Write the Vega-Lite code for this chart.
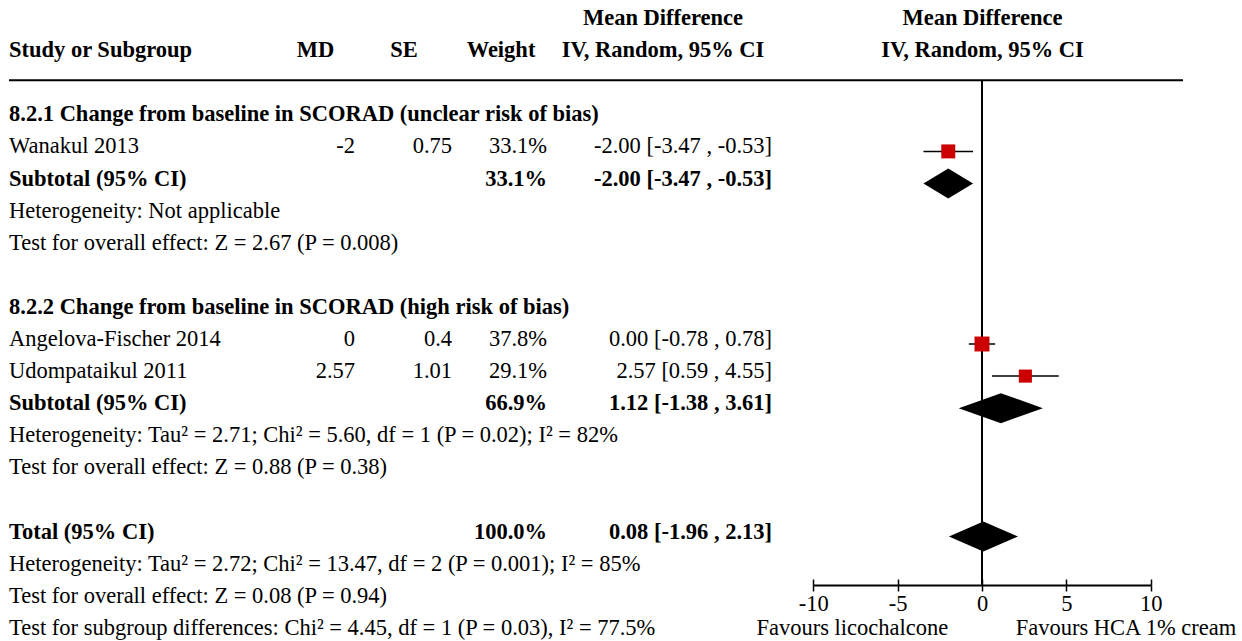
{
  "$schema": "https://vega.github.io/schema/vega-lite/v6.json",
  "width": 1242,
  "height": 641,
  "autosize": {"type": "fit", "contains": "padding"},
  "padding": 0,
  "background": "white",
  "config": {
    "view": {"stroke": null},
    "font": "Liberation Serif",
    "text": {"font": "Liberation Serif", "fontSize": 22.5, "color": "#000000", "baseline": "middle", "dy": -5},
    "axis": {"labelFont": "Liberation Serif", "titleFont": "Liberation Serif"}
  },
  "datasets": {
    "studies": [
      {"row": 4, "study": "Wanakul 2013", "md": "-2", "se": "0.75", "weight": 33.1, "wlabel": "33.1%", "est": -2.0, "lo": -3.47, "hi": -0.53, "ci": "-2.00 [-3.47 , -0.53]"},
      {"row": 10, "study": "Angelova-Fischer 2014", "md": "0", "se": "0.4", "weight": 37.8, "wlabel": "37.8%", "est": 0.0, "lo": -0.78, "hi": 0.78, "ci": "0.00 [-0.78 , 0.78]"},
      {"row": 11, "study": "Udompataikul 2011", "md": "2.57", "se": "1.01", "weight": 29.1, "wlabel": "29.1%", "est": 2.57, "lo": 0.59, "hi": 4.55, "ci": "2.57 [0.59 , 4.55]"}
    ],
    "subtotals": [
      {"row": 5, "group": "8.2.1", "label": "Subtotal (95% CI)", "wlabel": "33.1%", "est": -2.0, "lo": -3.47, "hi": -0.53, "ci": "-2.00 [-3.47 , -0.53]"},
      {"row": 12, "group": "8.2.2", "label": "Subtotal (95% CI)", "wlabel": "66.9%", "est": 1.12, "lo": -1.38, "hi": 3.61, "ci": "1.12 [-1.38 , 3.61]"},
      {"row": 16, "group": "Total", "label": "Total (95% CI)", "wlabel": "100.0%", "est": 0.08, "lo": -1.96, "hi": 2.13, "ci": "0.08 [-1.96 , 2.13]"}
    ],
    "headings": [
      {"row": 1, "label": "Study or Subgroup"},
      {"row": 3, "label": "8.2.1 Change from baseline in SCORAD (unclear risk of bias)"},
      {"row": 9, "label": "8.2.2 Change from baseline in SCORAD (high risk of bias)"}
    ],
    "notes": [
      {"row": 6, "label": "Heterogeneity: Not applicable"},
      {"row": 7, "label": "Test for overall effect: Z = 2.67 (P = 0.008)"},
      {"row": 13, "label": "Heterogeneity: Tau² = 2.71; Chi² = 5.60, df = 1 (P = 0.02); I² = 82%"},
      {"row": 14, "label": "Test for overall effect: Z = 0.88 (P = 0.38)"},
      {"row": 17, "label": "Heterogeneity: Tau² = 2.72; Chi² = 13.47, df = 2 (P = 0.001); I² = 85%"},
      {"row": 18, "label": "Test for overall effect: Z = 0.08 (P = 0.94)"},
      {"row": 19, "label": "Test for subgroup differences: Chi² = 4.45, df = 1 (P = 0.03), I² = 77.5%"}
    ],
    "headers": [
      {"row": 1, "col": 0, "label": "MD"},
      {"row": 1, "col": 1, "label": "SE"},
      {"row": 1, "col": 2, "label": "Weight"},
      {"row": 0, "col": 3, "label": "Mean Difference"},
      {"row": 1, "col": 3, "label": "IV, Random, 95% CI"},
      {"row": 0, "col": 4, "label": "Mean Difference"},
      {"row": 1, "col": 4, "label": "IV, Random, 95% CI"}
    ]
  },
  "layer": [
    {
      "layer": [
        {
          "data": {"name": "studies"},
          "mark": {"type": "text", "align": "left"},
          "encoding": {
            "x": {"datum": 0, "type": "quantitative", "scale": {"domain": [0, 1, 2, 3, 4, 5], "range": [9, 355, 452, 547, 772, 1183], "nice": false, "zero": false}, "axis": null},
            "y": {"field": "row", "type": "quantitative", "scale": {"domain": [-0.7165, 19.2523], "reverse": true, "nice": false, "zero": false}, "axis": null},
            "text": {"field": "study"}
          }
        },
        {
          "data": {"name": "studies"},
          "mark": {"type": "text", "align": "right"},
          "encoding": {
            "x": {"datum": 1, "type": "quantitative", "axis": null},
            "y": {"field": "row", "type": "quantitative", "axis": null},
            "text": {"field": "md"}
          }
        },
        {
          "data": {"name": "studies"},
          "mark": {"type": "text", "align": "right"},
          "encoding": {
            "x": {"datum": 2, "type": "quantitative", "axis": null},
            "y": {"field": "row", "type": "quantitative", "axis": null},
            "text": {"field": "se"}
          }
        },
        {
          "data": {"name": "studies"},
          "mark": {"type": "text", "align": "right"},
          "encoding": {
            "x": {"datum": 3, "type": "quantitative", "axis": null},
            "y": {"field": "row", "type": "quantitative", "axis": null},
            "text": {"field": "wlabel"}
          }
        },
        {
          "data": {"name": "studies"},
          "mark": {"type": "text", "align": "right"},
          "encoding": {
            "x": {"datum": 4, "type": "quantitative", "axis": null},
            "y": {"field": "row", "type": "quantitative", "axis": null},
            "text": {"field": "ci"}
          }
        },
        {
          "data": {"name": "headings"},
          "mark": {"type": "text", "align": "left", "fontWeight": "bold"},
          "encoding": {
            "x": {"datum": 0, "type": "quantitative", "axis": null},
            "y": {"field": "row", "type": "quantitative", "axis": null},
            "text": {"field": "label"}
          }
        },
        {
          "data": {"name": "notes"},
          "mark": {"type": "text", "align": "left"},
          "encoding": {
            "x": {"datum": 0, "type": "quantitative", "axis": null},
            "y": {"field": "row", "type": "quantitative", "axis": null},
            "text": {"field": "label"}
          }
        },
        {
          "data": {"name": "subtotals"},
          "mark": {"type": "text", "align": "left", "fontWeight": "bold"},
          "encoding": {
            "x": {"datum": 0, "type": "quantitative", "axis": null},
            "y": {"field": "row", "type": "quantitative", "axis": null},
            "text": {"field": "label"}
          }
        },
        {
          "data": {"name": "subtotals"},
          "mark": {"type": "text", "align": "right", "fontWeight": "bold"},
          "encoding": {
            "x": {"datum": 3, "type": "quantitative", "axis": null},
            "y": {"field": "row", "type": "quantitative", "axis": null},
            "text": {"field": "wlabel"}
          }
        },
        {
          "data": {"name": "subtotals"},
          "mark": {"type": "text", "align": "right", "fontWeight": "bold"},
          "encoding": {
            "x": {"datum": 4, "type": "quantitative", "axis": null},
            "y": {"field": "row", "type": "quantitative", "axis": null},
            "text": {"field": "ci"}
          }
        },
        {
          "data": {"values": [{}]},
          "mark": {"type": "rule", "color": "#000000", "strokeWidth": 2},
          "encoding": {
            "x": {"datum": 0, "type": "quantitative", "axis": null},
            "x2": {"datum": 5},
            "y": {"datum": 1.78, "type": "quantitative", "axis": null}
          }
        }
      ]
    },
    {
      "data": {"name": "headers"},
      "mark": {"type": "text", "align": "center", "fontWeight": "bold"},
      "encoding": {
        "x": {"field": "col", "type": "quantitative", "scale": {"domain": [0, 1, 2, 3, 4], "range": [315.5, 404, 501, 663, 982.5], "nice": false, "zero": false}, "axis": null},
        "y": {"field": "row", "type": "quantitative", "axis": null},
        "text": {"field": "label"}
      }
    },
    {
      "layer": [
        {
          "data": {"values": [{}]},
          "mark": {"type": "rule", "color": "#000000", "strokeWidth": 2},
          "encoding": {
            "x": {"datum": 0, "type": "quantitative", "title": null,
              "axis": {"orient": "top", "offset": -585, "values": [-10, -5, 0, 5, 10], "title": null, "grid": false,
                "domain": false, "labels": false, "ticks": true, "tickColor": "#000000", "tickWidth": 1.5, "tickSize": 6}},
            "y": {"datum": 1.78, "type": "quantitative", "axis": null},
            "y2": {"datum": 17.5}
          }
        },
        {
          "data": {"name": "studies"},
          "mark": {"type": "rule", "color": "#000000", "strokeWidth": 1.5},
          "encoding": {
            "x": {
              "field": "lo", "type": "quantitative", "title": null,
              "scale": {"domain": [-10, 10], "range": [813.3, 1150.7], "nice": false, "zero": false},
              "axis": {"orient": "bottom", "offset": -56, "values": [-10, -5, 0, 5, 10], "title": null, "grid": false,
                "domainColor": "#000000", "domainWidth": 2, "tickColor": "#000000", "tickWidth": 1.5, "tickSize": 6,
                "labelExpr": "'' + datum.value",
                "labelFontSize": 22.5, "labelColor": "#000000", "labelPadding": 1, "labelFlush": false, "labelOverlap": false, "labelBound": false}
            },
            "x2": {"field": "hi"},
            "y": {"field": "row", "type": "quantitative", "axis": null}
          }
        },
        {
          "data": {"name": "studies"},
          "mark": {"type": "point", "shape": "square", "filled": true, "color": "#cc0000", "opacity": 1, "strokeWidth": 0},
          "encoding": {
            "x": {"field": "est", "type": "quantitative", "title": null, "axis": null},
            "y": {"field": "row", "type": "quantitative", "axis": null},
            "size": {"field": "weight", "type": "quantitative", "scale": {"domain": [0, 100], "range": [0, 590], "zero": true}, "legend": null}
          }
        },
        {
          "data": {"name": "subtotals"},
          "mark": {"type": "point", "filled": true, "color": "#000000", "opacity": 1, "strokeWidth": 0, "size": 900},
          "encoding": {
            "x": {"field": "est", "type": "quantitative", "title": null, "axis": null},
            "y": {"field": "row", "type": "quantitative", "axis": null},
            "shape": {"field": "group", "type": "nominal", "scale": {"domain": ["8.2.1", "8.2.2", "Total"], "range": ["M-1.653,0L0,-1L1.653,0L0,1Z", "M-2.812,0L0,-1L2.8,0L0,1Z", "M-2.294,0L0,-1L2.306,0L0,1Z"]}, "legend": null}
          }
        },
        {
          "data": {"values": [{"label": "Favours licochalcone"}]},
          "mark": {"type": "text", "align": "right"},
          "encoding": {
            "x": {"datum": -2, "type": "quantitative", "title": null, "axis": null},
            "y": {"datum": 19, "type": "quantitative", "axis": null},
            "text": {"field": "label"}
          }
        },
        {
          "data": {"values": [{"label": "Favours HCA 1% cream"}]},
          "mark": {"type": "text", "align": "left"},
          "encoding": {
            "x": {"datum": 2, "type": "quantitative", "title": null, "axis": null},
            "y": {"datum": 19, "type": "quantitative", "axis": null},
            "text": {"field": "label"}
          }
        }
      ],
      "resolve": {"axis": {"x": "independent"}}
    }
  ],
  "resolve": {"scale": {"x": "independent"}, "axis": {"x": "independent"}}
}
